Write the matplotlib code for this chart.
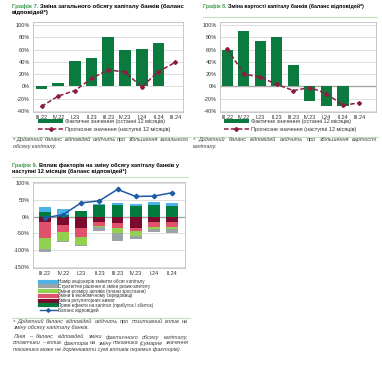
import numpy as np
import matplotlib.pyplot as plt
from matplotlib.lines import Line2D

W, H = 382, 375
plt.rcParams['font.family'] = ['Liberation Sans', 'DejaVu Sans']

quarters = ['III.22', 'IV.22', 'I.23', 'II.23', 'III.23', 'IV.23', 'I.24', 'II.24', 'III.24']

# graph 7: total capital volume (balance of responses, %)
total_fact = [-4, 6, 41, 47, 81, 60, 61, 71]
total_fcst = [-33, -16, -7, 13, 27, 23, -1, 24, 39]

# graph 8: cost of capital
value_fact = [60, 90, 74, 81, 34, -24, -33, -33]
value_fcst = [61, 20, 15, 3, -7, -2, -12, -31, -27]

# graph 9: factors of capital volume change
factor_quarters = quarters[:8]
direct_effects = [13, 6, 16, 35, 34, 33, 35, 32]
shareholders = [15, 17, 1, 2, 6, 6, 8, 8]
regulatory = [-15, -25, -35, -15, -20, -33, -17, -17]
economy = [-50, -21, -25, -12, -15, -10, -13, -13]
assets = [-30, -27, -25, -5, -13, -16, -7, -7]
strategy = [-10, -3, -2, -10, -24, -9, -10, -13]
balance = [-4, 6, 41, 47, 81, 60, 61, 71]

GREEN = '#0B7A3E'
MAROON = '#8C1D40'
TITLE_GREEN = '#3A9A4A'
RULE = '#C5E0B4'
TXT = '#333333'

fig = plt.figure(figsize=(W / 100, H / 100), dpi=100)
renderer = fig.canvas.get_renderer()


def px_axes(l, t, r, b):
    """ add axes given by pixel edges (top-left origin) """
    return fig.add_axes([l / W, 1 - b / H, (r - l) / W, (b - t) / H])


def fy(y):
    return 1 - y / H


def style(ax, yticks, zero_dark=False):
    for s in ax.spines.values():
        s.set_color('#BFBFBF')
        s.set_linewidth(0.6)
    ax.set_yticks(yticks)
    ax.set_yticklabels([f'{v}%' for v in yticks])
    ax.tick_params(length=0, labelsize=4, colors=TXT, pad=2)
    for v in yticks:
        if v == 0 and zero_dark:
            ax.axhline(0, color='#A6A6A6', lw=1.0, zorder=0.5)
        else:
            ax.axhline(v, color='#D9D9D9', lw=0.6, zorder=0.5)


def title(x, y, prefix, rest, size=4.3):
    t = fig.text(x / W, fy(y), prefix, color=TITLE_GREEN, fontsize=size,
                 fontweight='bold', va='center')
    w = t.get_window_extent(renderer).width
    fig.text((x + w + 1.2) / W, fy(y), rest, color='black', fontsize=size,
             fontweight='bold', va='center')


def hrule(x0, x1, y):
    fig.add_artist(Line2D([x0 / W, x1 / W], [fy(y), fy(y)], color=RULE, lw=0.8))


def justify(x0, x1, y, line, **kw):
    """ place words of a line spread between x0 and x1 """
    words = line.split()
    texts = [fig.text(0, fy(y), w, va='center', **kw) for w in words]
    widths = [t.get_window_extent(renderer).width for t in texts]
    gap = (x1 - x0 - sum(widths)) / (len(words) - 1)
    x = x0
    for t, w in zip(texts, widths):
        t.set_x(x / W)
        x += w + gap


def legend_two(ax, x0):
    h, l = ax.get_legend_handles_labels()
    fig.legend(h[::-1], l[::-1], loc='upper left',
               bbox_to_anchor=(x0 / W, fy(119)), frameon=False, fontsize=4,
               handlelength=4.5, handleheight=0.6, labelspacing=0.45,
               handletextpad=0.4, borderpad=0, borderaxespad=0, labelcolor=TXT)


note_kw = dict(fontsize=3.95, style='italic', color='#404040')
x = np.arange(len(quarters))

# ---------------- graph 7 ----------------
title(12, 6, 'Графік 7.', 'Зміна загального обсягу капіталу банків (баланс')
fig.text(12 / W, fy(12.5), 'відповідей*)', fontsize=4.3, fontweight='bold', va='center')
ax7 = px_axes(33, 22, 183, 112)
ax7.bar(x[:len(total_fact)], total_fact, width=0.7, color=GREEN, zorder=2,
        label='Фактичне значення (останні 12 місяців)')
ax7.plot(x, total_fcst, color=MAROON, lw=1.1, ls=(0, (3, 1.5)), marker='D', ms=2,
         zorder=3, label='Прогнозне значення (наступні 12 місяців)')
ax7.set_xlim(-0.51, 8.47)
ax7.set_ylim(-42, 105)
ax7.set_xticks(x)
ax7.set_xticklabels(quarters)
style(ax7, [-40, -20, 0, 20, 40, 60, 80, 100])
legend_two(ax7, 38)
hrule(12, 190, 136.5)
justify(13, 188, 139.5, '* Додатний баланс відповідей свідчить про збільшення загального', **note_kw)
fig.text(13 / W, fy(146.5), 'обсягу капіталу.', va='center', **note_kw)

# ---------------- graph 8 ----------------
title(203, 6, 'Графік 8.', 'Зміна вартості капіталу банків (баланс відповідей*)', size=3.8)
hrule(203, 377, 16.5)
ax8 = px_axes(220, 22, 376, 112)
ax8.bar(x[:len(value_fact)], value_fact, width=0.67, color=GREEN, zorder=2,
        label='Фактичне значення (останні 12 місяців)')
ax8.plot(x, value_fcst, color=MAROON, lw=1.1, ls=(0, (3, 1.5)), marker='D', ms=2,
         zorder=3, label='Прогнозне значення (наступні 12 місяців)')
ax8.set_xlim(-0.45, 9.0)
ax8.set_ylim(-42, 105)
ax8.set_xticks(x)
ax8.set_xticklabels(quarters)
style(ax8, [-40, -20, 0, 20, 40, 60, 80, 100], zero_dark=True)
legend_two(ax8, 224)
hrule(193, 378, 136.5)
justify(193, 377, 139.5, '* Додатний баланс відповідей свідчить про збільшення вартості', **note_kw)
fig.text(193 / W, fy(146.5), 'капіталу.', va='center', **note_kw)

# ---------------- graph 9 ----------------
title(12, 165, 'Графік 9.', 'Вплив факторів на зміну обсягу капіталу банків у', size=4.1)
fig.text(12 / W, fy(171.5), 'наступні 12 місяців (баланс відповідей*)', fontsize=4.1,
         fontweight='bold', va='center')
hrule(12, 188, 176.5)
ax9 = px_axes(33, 182, 185, 268)
xf = np.arange(len(factor_quarters))
bw = 0.65
ax9.bar(xf, direct_effects, bw, color='#007A3D', zorder=2)
ax9.bar(xf, shareholders, bw, bottom=direct_effects, color='#4DB3E6', zorder=2)
neg_bottom = np.zeros(len(xf))
for vals, col in [(regulatory, '#7A0A2E'), (economy, '#E0526B'),
                  (assets, '#92D050'), (strategy, '#9AA3A6')]:
    ax9.bar(xf, vals, bw, bottom=neg_bottom, color=col, zorder=2)
    neg_bottom = neg_bottom + np.array(vals)
ax9.plot(xf, balance, color='#1F5AA6', lw=1.1, marker='D', ms=2.3, zorder=3)
ax9.set_xlim(-0.66, 7.72)
ax9.set_ylim(-153, 103)
ax9.set_xticks(xf)
ax9.set_xticklabels(factor_quarters)
ax9.tick_params(axis='x', pad=3.5)
style(ax9, [-150, -100, -50, 0, 50, 100], zero_dark=True)

leg_labels = ['Намір акціонерів змінити обсяг капіталу',
              'Стратегічні рішення зі зміни ризик-апетиту',
              'Зміни розміру активів (плани зростання)',
              'Зміни в економічному середовищі',
              'Зміна регуляторних вимог',
              'Прямі ефекти на капітал (прибуток / збиток)',
              'Баланс відповідей']
leg_colors = ['#4DB3E6', '#9AA3A6', '#92D050', '#E0526B', '#7A0A2E', '#007A3D']
handles = [Line2D([], [], color=c, lw=3) for c in leg_colors]
handles.append(Line2D([], [], color='#1F5AA6', lw=1.0, marker='D', ms=1.8))
fig.legend(handles, leg_labels, loc='upper left', bbox_to_anchor=(40 / W, fy(279)),
           frameon=False, fontsize=3.3, handlelength=3.7, handleheight=0.45,
           labelspacing=-0.05, handletextpad=0.3, borderpad=0, borderaxespad=0,
           labelcolor=TXT)
hrule(12, 190, 318)
justify(13, 188, 321.5, '* Додатний баланс відповідей свідчить про позитивний вплив на', **note_kw)
fig.text(13 / W, fy(327.5), 'зміну обсягу капіталу банків.', va='center', **note_kw)
justify(13, 188, 337, 'Лінія – баланс відповідей зміни фактичного обсягу капіталу,', **note_kw)
justify(13, 188, 343, 'стовпчики – вплив факторів на зміну показника (сумарне значення', **note_kw)
fig.text(13 / W, fy(349), 'показника може не дорівнювати сумі впливів окремих факторів).',
         va='center', **note_kw)

fig.savefig('out.png', dpi=100)
